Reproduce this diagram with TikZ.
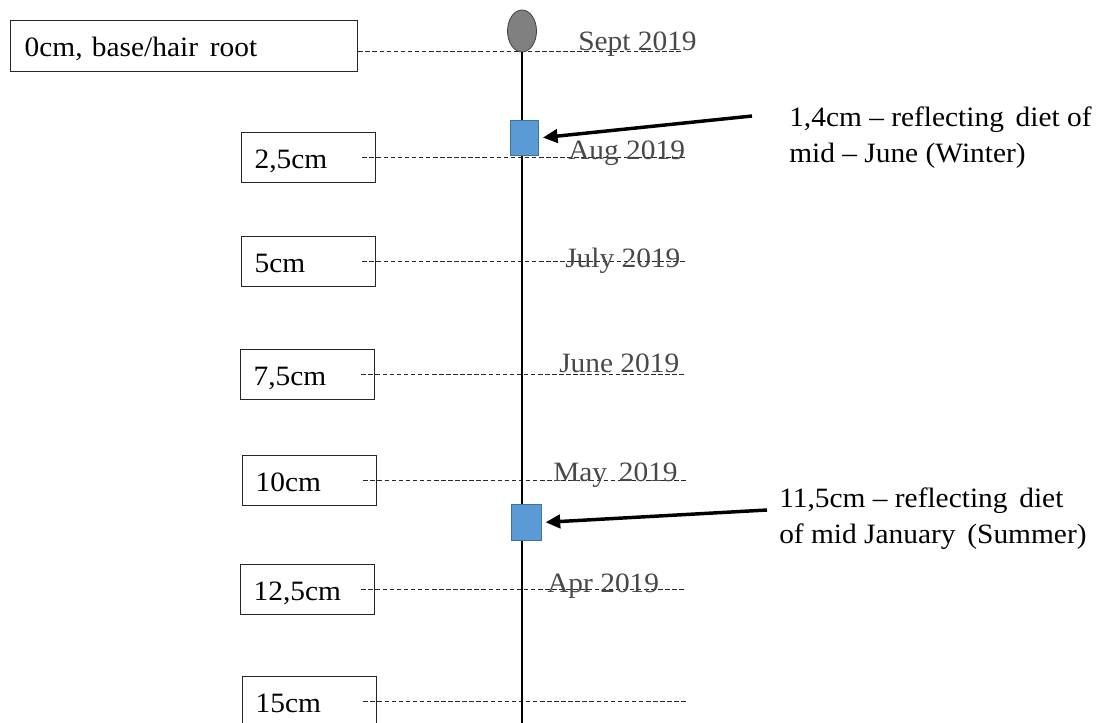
\documentclass[tikz,border=0pt]{standalone}
\usepackage{fontspec}
\setmainfont{Liberation Serif}[FakeStretch=1.05]
\usetikzlibrary{shapes.geometric,arrows.meta}
\definecolor{dategray}{RGB}{72,72,72}
\definecolor{dashgray}{RGB}{40,40,40}
\definecolor{markblue}{RGB}{91,155,213}
\definecolor{markedge}{RGB}{65,113,156}
\definecolor{rootfill}{RGB}{128,128,128}
\definecolor{rootedge}{RGB}{64,64,64}
\newcommand\widegap{\hspace{0.42em}}
\tikzset{
  every node/.style={font=\fontsize{21pt}{27pt}\selectfont},
  lenbox/.style={draw=black!85, line width=1pt, anchor=north west, align=left,
    text height=15.75pt, text depth=0pt},
  widebox/.style={lenbox, text width=239.25pt, inner xsep=10.5pt, inner ysep=11.25pt},
  smallbox/.style={lenbox, text width=81pt, inner xsep=9.75pt, inner ysep=10.875pt},
  dashline/.style={draw=dashgray, line width=1pt, dash pattern=on 3.4pt off 1.9pt},
  datelabel/.style={text=dategray, anchor=base west, inner sep=0pt},
  notelabel/.style={anchor=base west, align=left, inner sep=0pt},
  marker/.style={rectangle, fill=markblue, draw=markedge, line width=0.6pt,
    minimum width=21pt, minimum height=26.5pt, inner sep=0pt},
  pointer/.style={line width=2.6pt, -{Triangle[length=11pt,width=10pt]}, shorten >=3pt},
}
\begin{document}
\begin{tikzpicture}[x=0.75pt, y=-0.75pt]
\useasboundingbox (0,0) rectangle (1100,722);

% length boxes along the hair
\node[widebox] (b0) at (10,20) {0cm, base/hair\widegap root};
\node[smallbox] (b1) at (241,132) {2,5cm};
\node[smallbox] (b2) at (241,236) {5cm};
\node[smallbox] (b3) at (240,349) {7,5cm};
\node[smallbox] (b4) at (242,455) {10cm};
\node[smallbox] (b5) at (240,564) {12,5cm};
\node[smallbox] (b6) at (242,676) {15cm};

% dashed level lines
\draw[dashline] ([yshift=-4.1pt]b0.east) -- ++(242pt,0);
\foreach \b in {b1,b2,b3,b4,b5,b6}
  \draw[dashline] ([xshift=-10.5pt]\b.east) -- ++(242pt,0);

% the hair strand with its root
\node[ellipse, fill=rootfill, draw=rootedge, line width=0.6pt,
      minimum width=21.75pt, minimum height=31.5pt, inner sep=0pt] (root) at (522,31) {};
\coordinate (tip) at (522,735);
\draw[line width=2.2pt] (root.south) -- (tip);

% sampled segments
\node[marker] (s1) at (524.5,138) {};
\node[marker, minimum width=22pt, minimum height=27.5pt] (s2) at (526.5,522.5) {};

% month labels
\node[datelabel] (m0) at (578,50) {Sept 2019};
\node[datelabel] (m1) at (568,159) {Aug 2019};
\node[datelabel] (m2) at (565,267) {July 2019};
\node[datelabel] (m3) at (559,372) {June 2019};
\node[datelabel] (m4) at (553,481) {May\widegap 2019};
\node[datelabel] (m5) at (547,592) {Apr 2019};

% notes and pointers (anchored on the baseline of their last line)
\node[notelabel] (n1) at (789,162) {1,4cm -- reflecting\widegap diet of\\mid -- June (Winter)};
\node[notelabel] (n2) at (779,543) {11,5cm -- reflecting\widegap diet\\of mid January\widegap (Summer)};
\coordinate (p1) at (752,116);
\coordinate (p2) at (767,510);
\draw[pointer] (p1) -- (s1.east);
\draw[pointer] (p2) -- (s2.east);
\end{tikzpicture}
\end{document}
